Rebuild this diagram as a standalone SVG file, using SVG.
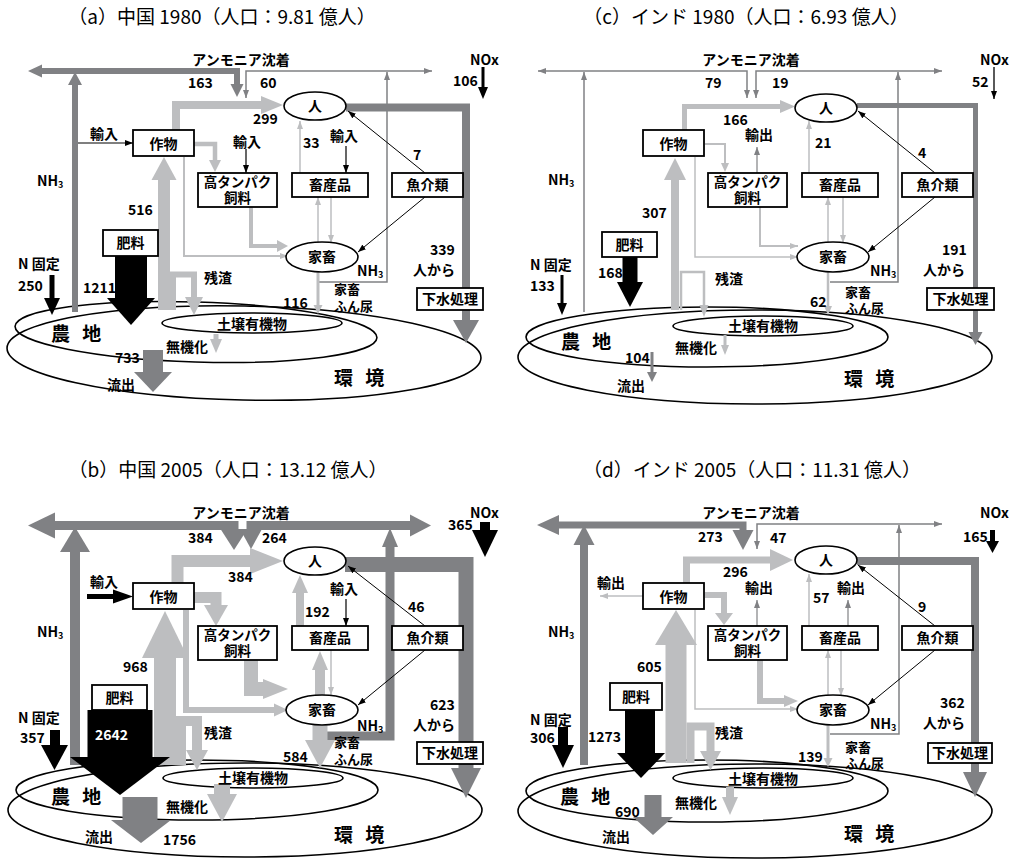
<svg xmlns="http://www.w3.org/2000/svg" width="1015" height="860" viewBox="0 0 1015 860">
<style>
.dg{fill:none;stroke:#808184;stroke-linejoin:miter}
.lg{fill:none;stroke:#bdbec0;stroke-linejoin:miter}
.bk{fill:none;stroke:#000;stroke-linejoin:miter}
.fdg{fill:#808184}.flg{fill:#bdbec0}.fbk{fill:#000}
.box{fill:#fff;stroke:#000;stroke-width:1.8}
.ell{fill:none;stroke:#000;stroke-width:1.6}
.nd{fill:#fff;stroke:#000;stroke-width:1.6}
text{font-family:"Noto Sans CJK JP","Noto Sans",sans-serif;font-weight:700;font-size:14px;fill:#000}
text.t{font-weight:400;font-size:19px}
text.big{font-size:19px;letter-spacing:4px}
text.s{font-size:13.5px}
text.x{font-size:13px}
text.m{text-anchor:middle}
text.w{fill:#fff}
</style>
<defs>
<marker id="mb" viewBox="0 0 8 6" refX="8" refY="3" markerWidth="8" markerHeight="6" markerUnits="userSpaceOnUse" orient="auto-start-reverse"><path d="M0,0L8,3L0,6z" fill="#000"/></marker>
<marker id="mg" viewBox="0 0 8 6" refX="8" refY="3" markerWidth="8" markerHeight="6" markerUnits="userSpaceOnUse" orient="auto-start-reverse"><path d="M0,0L8,3L0,6z" fill="#808184"/></marker>
<marker id="ml" viewBox="0 0 8 6" refX="8" refY="3" markerWidth="8" markerHeight="6" markerUnits="userSpaceOnUse" orient="auto-start-reverse"><path d="M0,0L8,3L0,6z" fill="#bdbec0"/></marker>
</defs>
<rect width="1015" height="860" fill="#fff"/>

<!-- ================= PANEL A ================= -->
<g id="panel-a">
<g id="a-ground">
<ellipse class="ell" cx="244" cy="353" rx="237" ry="47" transform="rotate(1.2 244 353)"/>
<ellipse class="ell" cx="196" cy="332" rx="181" ry="30" transform="rotate(1.8 196 332)"/>
<ellipse class="ell" cx="252" cy="323" rx="90" ry="10"/>
</g>
<g id="a-connectors">
<polyline class="dg" stroke-width="6" points="75,312 75,84"/>
<polygon class="fdg" points="68,85 82,85 75,72"/>
<polyline class="dg" stroke-width="6" points="41,71 237,71 237,85"/>
<polygon class="fdg" points="28,71 42,64.5 42,77.5"/>
<polygon class="fdg" points="230.5,84 243.5,84 237,97"/>
<polyline class="dg" stroke-width="1.5" points="246,98 246,71 432,71" marker-start="url(#mg)" marker-end="url(#mg)"/>
<polyline class="dg" stroke-width="1.5" points="318,282 387,282 387,72" marker-end="url(#mg)"/>
<polyline class="dg" stroke-width="8" points="346,107.5 466,107.5 466,321"/>
<polygon class="fdg" points="453,320 479,320 466,343"/>
<polyline class="dg" stroke-width="20" points="153,350 153,373"/>
<polygon class="fdg" points="134,372 172,372 153,392"/>
<polyline class="lg" stroke-width="8" points="176,130 176,105 262,105"/>
<polygon class="flg" points="261,96 283,105 261,114"/>
<polyline class="lg" stroke-width="12" points="164,310 164,179"/>
<polygon class="flg" points="151.5,180 176.5,180 164,157"/>
<polyline class="lg" stroke-width="6" points="173,310 173,274.5 194,274.5 194,298"/>
<polygon class="flg" points="185,297 203,297 194,315"/>
<polyline class="lg" stroke-width="4.5" points="194,144 215,144 215,161"/>
<polygon class="flg" points="209,160 221,160 215,172"/>
<polyline class="lg" stroke-width="2" points="184,157 184,256 288,256" marker-end="url(#ml)"/>
<polyline class="lg" stroke-width="4" points="251,207 251,246 279,246"/>
<polygon class="flg" points="277,240 288,246 277,252"/>
<line class="lg" stroke-width="1.5" x1="300" y1="173" x2="300" y2="121" marker-end="url(#ml)"/>
<line class="lg" stroke-width="1.5" x1="318" y1="243" x2="318" y2="197" marker-end="url(#ml)"/>
<line class="lg" stroke-width="1.5" x1="331" y1="197" x2="331" y2="243" marker-end="url(#ml)"/>
<polyline class="lg" stroke-width="3" points="318,272 318,306"/>
<polygon class="flg" points="313.5,305 322.5,305 318,314"/>
<polyline class="lg" stroke-width="5" points="216,334 216,340"/>
<polygon class="flg" points="210,339 222,339 216,353"/>
<line class="bk" stroke-width="1.2" x1="78" y1="143" x2="133" y2="143" marker-end="url(#mb)"/>
<line class="bk" stroke-width="1.2" x1="246" y1="149" x2="246" y2="173" marker-end="url(#mb)"/>
<line class="bk" stroke-width="1.2" x1="346" y1="146" x2="346" y2="173" marker-end="url(#mb)"/>
<line class="bk" stroke-width="1" x1="425" y1="173" x2="348" y2="111" marker-end="url(#mb)"/>
<line class="bk" stroke-width="1" x1="425" y1="197" x2="358" y2="252" marker-end="url(#mb)"/>
<polyline class="bk" stroke-width="3" points="483,67 483,88"/>
<polygon class="fbk" points="478,87 488,87 483,99"/>
<polyline class="bk" stroke-width="5" points="52,275 52,299"/>
<polygon class="fbk" points="44,298 60,298 52,315"/>
<polyline class="bk" stroke-width="32" points="131,256 131,299"/>
<polygon class="fbk" points="107,298 155,298 131,325"/>
</g>
<g id="a-crop"><rect class="box" x="133" y="130" width="61" height="26"/><text class="m" x="163.5" y="149">作物</text></g>
<g id="a-feed"><rect class="box" x="198" y="173" width="79" height="34"/><text class="m s" x="237.5" y="187">高タンパク<tspan x="237.5" dy="16">飼料</tspan></text></g>
<g id="a-product"><rect class="box" x="292" y="173" width="76" height="24"/><text class="m" x="330" y="190">畜産品</text></g>
<g id="a-fish"><rect class="box" x="392" y="173" width="71" height="24"/><text class="m" x="427.5" y="190">魚介類</text></g>
<g id="a-fert"><rect class="box" x="103" y="230" width="55" height="26"/><text class="m" x="130.5" y="248">肥料</text></g>
<g id="a-sewage"><rect class="box" x="417" y="288" width="66" height="22"/><text class="m" x="450" y="304">下水処理</text></g>
<g id="a-human"><ellipse class="nd" cx="315" cy="106" rx="31" ry="14"/><text class="m" x="315" y="111">人</text></g>
<g id="a-livestock"><ellipse class="nd" cx="322" cy="257" rx="36" ry="15"/><text class="m" x="322" y="262">家畜</text></g>
<g id="a-labels">
<text class="t m" x="222" y="24">（a）中国 1980（人口：9.81 億人）</text>
<text class="m" x="241" y="65">アンモニア沈着</text>
<text x="188" y="88">163</text><text x="260" y="88">60</text>
<text x="470" y="65">NOx</text><text x="453" y="86">106</text>
<text x="90" y="139">輸入</text>
<text x="253" y="124">299</text>
<text x="233" y="147">輸入</text>
<text x="303" y="148">33</text>
<text x="330" y="141">輸入</text>
<text x="413" y="160">7</text>
<text x="37" y="186">NH<tspan font-size="9" dy="2">3</tspan></text>
<text x="128" y="215">516</text>
<text x="18" y="269">N 固定</text><text x="18" y="291">250</text>
<text x="83" y="293">1211</text>
<text x="204" y="283">残渣</text>
<text x="357" y="276">NH<tspan font-size="9" dy="2">3</tspan></text>
<text x="430" y="255">339</text><text x="413" y="275">人から</text>
<text class="x" x="334" y="294">家畜<tspan x="334" dy="17">ふん尿</tspan></text>
<text x="283" y="308">116</text>
<text class="m" x="252" y="329">土壌有機物</text>
<text class="big" x="51" y="341">農 地</text>
<text x="166" y="352">無機化</text>
<text x="115" y="363">733</text>
<text x="107" y="390">流出</text>
<text class="big" x="334" y="385">環 境</text>
</g>
</g>

<!-- ================= PANEL B ================= -->
<g id="panel-b" transform="translate(0,453)">
<g id="b-ground">
<ellipse class="ell" cx="245" cy="357" rx="237" ry="47"/>
<ellipse class="ell" cx="197" cy="337" rx="181" ry="30"/>
<ellipse class="ell" cx="253" cy="325" rx="90" ry="10"/>
</g>
<g id="b-connectors">
<polyline class="dg" stroke-width="10" points="75,312 75,97"/>
<polygon class="fdg" points="60,99 90,99 75,74"/>
<polyline class="dg" stroke-width="9" points="53,72.5 234,72.5 234,78"/>
<polygon class="fdg" points="28,72.5 55,59.5 55,85.5"/>
<polygon class="fdg" points="220.5,76 247.5,76 234,97"/>
<polyline class="dg" stroke-width="9" points="251,77 251,72.5 412,72.5"/>
<polygon class="fdg" points="410,61.5 431,72.5 410,83.5"/>
<polygon class="fdg" points="240,76 262,76 251,96"/>
<polyline class="dg" stroke-width="9" points="327,283 390,283 390,93"/>
<polygon class="fdg" points="382,94 398,94 390,75"/>
<polyline class="dg" stroke-width="15" points="345,111.5 466,111.5 466,316"/>
<polygon class="fdg" points="451,315 481,315 466,345"/>
<polyline class="dg" stroke-width="35" points="140,344 140,368"/>
<polygon class="fdg" points="111,367 171,367 141,390"/>
<polyline class="lg" stroke-width="12" points="177.5,130 177.5,108 252,108"/>
<polygon class="flg" points="250,95 283,108 250,121"/>
<polyline class="lg" stroke-width="22" points="165,312 165,204"/>
<polygon class="flg" points="142,205 188,205 165,158"/>
<polyline class="lg" stroke-width="10" points="181,312 181,268 197,268 197,298"/>
<polygon class="flg" points="186,297 208,297 197,317"/>
<polyline class="lg" stroke-width="11" points="194,144.5 216,144.5 216,153"/>
<polygon class="flg" points="204,152 228,152 216,173"/>
<polyline class="lg" stroke-width="6" points="186,157 186,257 276,257"/>
<polygon class="flg" points="274,250.5 288,257 274,263.5"/>
<polyline class="lg" stroke-width="14" points="251,207 251,236 266,236"/>
<polygon class="flg" points="263,226 288,236 263,246"/>
<polyline class="lg" stroke-width="8" points="300,173 300,139"/>
<polygon class="flg" points="292,140 308,140 300,122"/>
<polyline class="lg" stroke-width="10" points="320,243 320,216"/>
<polygon class="flg" points="312,217 328,217 320,198"/>
<line class="lg" stroke-width="1.5" x1="331" y1="197" x2="331" y2="242" marker-end="url(#ml)"/>
<polyline class="lg" stroke-width="15" points="320,272 320,288"/>
<polygon class="flg" points="305,287 335,287 320,315"/>
<polyline class="lg" stroke-width="16" points="222,331 222,342"/>
<polygon class="flg" points="207,341 237,341 222,369"/>
<polyline class="bk" stroke-width="5" points="87,143.5 115,143.5"/>
<polygon class="fbk" points="113,136.5 133,143.5 113,150.5"/>
<line class="bk" stroke-width="1.2" x1="346" y1="146" x2="346" y2="173" marker-end="url(#mb)"/>
<line class="bk" stroke-width="1" x1="425" y1="173" x2="348" y2="113" marker-end="url(#mb)"/>
<line class="bk" stroke-width="1" x1="425" y1="197" x2="358" y2="252" marker-end="url(#mb)"/>
<polyline class="bk" stroke-width="10" points="485,69 485,78"/>
<polygon class="fbk" points="472,77 498,77 485,104"/>
<polyline class="bk" stroke-width="10" points="55,277 55,293"/>
<polygon class="fbk" points="41,292 68,292 54.5,317"/>
<polyline class="bk" stroke-width="65" points="120,257 120,305"/>
<polygon class="fbk" points="70,304 170,304 120,342"/>
</g>
<g id="b-crop"><rect class="box" x="133" y="130" width="61" height="26"/><text class="m" x="163.5" y="149">作物</text></g>
<g id="b-feed"><rect class="box" x="198" y="173" width="79" height="34"/><text class="m s" x="237.5" y="187">高タンパク<tspan x="237.5" dy="16">飼料</tspan></text></g>
<g id="b-product"><rect class="box" x="292" y="173" width="76" height="24"/><text class="m" x="330" y="190">畜産品</text></g>
<g id="b-fish"><rect class="box" x="392" y="173" width="71" height="24"/><text class="m" x="427.5" y="190">魚介類</text></g>
<g id="b-fert"><rect class="box" x="92" y="232" width="55" height="25"/><text class="m" x="119.5" y="250">肥料</text></g>
<g id="b-sewage"><rect class="box" x="417" y="289" width="66" height="22"/><text class="m" x="450" y="305">下水処理</text></g>
<g id="b-human"><ellipse class="nd" cx="315" cy="108" rx="31" ry="14"/><text class="m" x="315" y="113">人</text></g>
<g id="b-livestock"><ellipse class="nd" cx="322" cy="257" rx="36" ry="15"/><text class="m" x="322" y="262">家畜</text></g>
<g id="b-labels">
<text class="t m" x="228" y="24">（b）中国 2005（人口：13.12 億人）</text>
<text class="m" x="241" y="65">アンモニア沈着</text>
<text x="188" y="90">384</text><text x="262" y="90">264</text>
<text x="470" y="65">NOx</text><text x="448" y="77">365</text>
<text x="90" y="134">輸入</text>
<text x="228" y="129">384</text>
<text x="330" y="141">輸入</text>
<text x="305" y="164">192</text>
<text x="408" y="159">46</text>
<text x="37" y="184">NH<tspan font-size="9" dy="2">3</tspan></text>
<text x="123" y="219">968</text>
<text class="w" x="95" y="287">2642</text>
<text x="18" y="270">N 固定</text><text x="20" y="290">357</text>
<text x="204" y="285">残渣</text>
<text x="357" y="278">NH<tspan font-size="9" dy="2">3</tspan></text>
<text x="430" y="257">623</text><text x="413" y="277">人から</text>
<text class="x" x="334" y="294">家畜<tspan x="334" dy="17">ふん尿</tspan></text>
<text x="283" y="309">584</text>
<text class="m" x="253" y="330">土壌有機物</text>
<text class="big" x="51" y="351">農 地</text>
<text x="166" y="359">無機化</text>
<text x="85" y="389">流出</text>
<text x="163" y="392">1756</text>
<text class="big" x="334" y="389">環 境</text>
</g>
</g>

<!-- ================= PANEL C ================= -->
<g id="panel-c" transform="translate(510,0)">
<g id="c-ground">
<ellipse class="ell" cx="245" cy="357" rx="237" ry="47"/>
<ellipse class="ell" cx="197" cy="337" rx="181" ry="30"/>
<ellipse class="ell" cx="253" cy="326" rx="90" ry="10"/>
</g>
<g id="c-connectors">
<polyline class="dg" stroke-width="1.5" points="74,312 74,72" marker-end="url(#mg)"/>
<polyline class="dg" stroke-width="1.5" points="28,71 237,71 237,98" marker-start="url(#mg)" marker-end="url(#mg)"/>
<polyline class="dg" stroke-width="1.5" points="246,98 246,71 432,71" marker-start="url(#mg)" marker-end="url(#mg)"/>
<polyline class="dg" stroke-width="1.5" points="320,282 388,282 388,72" marker-end="url(#mg)"/>
<polyline class="dg" stroke-width="5" points="347,105.5 465.5,105.5 465.5,333"/>
<polygon class="fdg" points="458.5,332 472.5,332 465.5,345"/>
<polyline class="dg" stroke-width="3" points="142,352 142,373"/>
<polygon class="fdg" points="137,372 147,372 142,382"/>
<polyline class="lg" stroke-width="5" points="174.5,130 174.5,106.5 271,106.5"/>
<polygon class="flg" points="270,100 285,106.5 270,113"/>
<polyline class="lg" stroke-width="8" points="165,310 165,179"/>
<polygon class="flg" points="154,180 176,180 165,158"/>
<polyline class="lg" stroke-width="2.5" points="171,310 171,272 194,272 194,306"/>
<polygon class="flg" points="189.5,305 198.5,305 194,317"/>
<polyline class="lg" stroke-width="2" points="195,144 215,144 215,164"/>
<polygon class="flg" points="211,163 219,163 215,172"/>
<polyline class="lg" stroke-width="1.5" points="185,157 185,257 288,257" marker-end="url(#ml)"/>
<polyline class="lg" stroke-width="2" points="250,207 250,246 288,246" marker-end="url(#ml)"/>
<line class="lg" stroke-width="1.5" x1="299" y1="173" x2="299" y2="121" marker-end="url(#ml)"/>
<line class="lg" stroke-width="1.5" x1="318" y1="243" x2="318" y2="197" marker-end="url(#ml)"/>
<line class="lg" stroke-width="1.5" x1="333" y1="197" x2="333" y2="243" marker-end="url(#ml)"/>
<polyline class="lg" stroke-width="2.5" points="318,272 318,307"/>
<polygon class="flg" points="314,306 322,306 318,315"/>
<polyline class="lg" stroke-width="3" points="215,335 215,346"/>
<polygon class="flg" points="211,345 219,345 215,355"/>
<line class="dg" stroke-width="1.2" x1="247" y1="173" x2="247" y2="147" marker-end="url(#mg)"/>
<line class="bk" stroke-width="1" x1="425" y1="173" x2="348" y2="111" marker-end="url(#mb)"/>
<line class="bk" stroke-width="1" x1="425" y1="197" x2="358" y2="252" marker-end="url(#mb)"/>
<line class="bk" stroke-width="1.3" x1="484" y1="67" x2="484" y2="99" marker-end="url(#mb)"/>
<polyline class="bk" stroke-width="3" points="52,275 52,304"/>
<polygon class="fbk" points="47,303 57,303 52,315"/>
<polyline class="bk" stroke-width="15" points="120,257 120,283"/>
<polygon class="fbk" points="107,282 133,282 120,307"/>
</g>
<g id="c-crop"><rect class="box" x="133" y="130" width="61" height="26"/><text class="m" x="163.5" y="149">作物</text></g>
<g id="c-feed"><rect class="box" x="198" y="173" width="79" height="34"/><text class="m s" x="237.5" y="187">高タンパク<tspan x="237.5" dy="16">飼料</tspan></text></g>
<g id="c-product"><rect class="box" x="292" y="173" width="76" height="24"/><text class="m" x="330" y="190">畜産品</text></g>
<g id="c-fish"><rect class="box" x="392" y="173" width="71" height="24"/><text class="m" x="427.5" y="190">魚介類</text></g>
<g id="c-fert"><rect class="box" x="92" y="232" width="55" height="25"/><text class="m" x="119.5" y="250">肥料</text></g>
<g id="c-sewage"><rect class="box" x="417" y="288" width="67" height="22"/><text class="m" x="450.5" y="304">下水処理</text></g>
<g id="c-human"><ellipse class="nd" cx="316" cy="108" rx="31" ry="14"/><text class="m" x="316" y="113">人</text></g>
<g id="c-livestock"><ellipse class="nd" cx="323" cy="257" rx="36" ry="15"/><text class="m" x="323" y="262">家畜</text></g>
<g id="c-labels">
<text class="t m" x="236" y="24">（c）インド 1980（人口：6.93 億人）</text>
<text class="m" x="241" y="65">アンモニア沈着</text>
<text x="195" y="88">79</text><text x="262" y="88">19</text>
<text x="470" y="65">NOx</text><text x="462" y="87">52</text>
<text x="213" y="125">166</text>
<text x="235" y="140">輸出</text>
<text x="305" y="148">21</text>
<text x="408" y="158">4</text>
<text x="38" y="185">NH<tspan font-size="9" dy="2">3</tspan></text>
<text x="132" y="218">307</text>
<text x="20" y="270">N 固定</text><text x="20" y="291">133</text>
<text x="88" y="278">168</text>
<text x="205" y="284">残渣</text>
<text x="360" y="276">NH<tspan font-size="9" dy="2">3</tspan></text>
<text x="432" y="255">191</text><text x="413" y="275">人から</text>
<text class="x" x="335" y="297">家畜<tspan x="335" dy="16">ふん尿</tspan></text>
<text x="300" y="307">62</text>
<text class="m" x="253" y="331">土壌有機物</text>
<text class="big" x="51" y="349">農 地</text>
<text x="165" y="353">無機化</text>
<text x="115" y="363">104</text>
<text x="107" y="391">流出</text>
<text class="big" x="334" y="386">環 境</text>
</g>
</g>

<!-- ================= PANEL D ================= -->
<g id="panel-d" transform="translate(510,453)">
<g id="d-ground">
<ellipse class="ell" cx="245" cy="358" rx="237" ry="47"/>
<ellipse class="ell" cx="197" cy="338" rx="181" ry="31"/>
<ellipse class="ell" cx="253" cy="325" rx="90" ry="10"/>
</g>
<g id="d-connectors">
<polyline class="dg" stroke-width="8" points="74,312 74,90"/>
<polygon class="fdg" points="63.5,92 84.5,92 74,72"/>
<polyline class="dg" stroke-width="7" points="48,72 233,72 233,78"/>
<polygon class="fdg" points="27,72 49,62 49,82"/>
<polygon class="fdg" points="222.5,77 243.5,77 233,97"/>
<polyline class="dg" stroke-width="1.5" points="247,96 247,71 432,71" marker-start="url(#mg)" marker-end="url(#mg)"/>
<polyline class="dg" stroke-width="1.5" points="320,281 389,281 389,72" marker-end="url(#mg)"/>
<polyline class="dg" stroke-width="8" points="347,108 465,108 465,320"/>
<polygon class="fdg" points="453,319 477,319 465,344"/>
<polyline class="dg" stroke-width="17" points="143,342 143,365"/>
<polygon class="fdg" points="123,364 163,364 143,382"/>
<polyline class="lg" stroke-width="7" points="176.5,130 176.5,107 262,107"/>
<polygon class="flg" points="260,96 283,107 260,118"/>
<polyline class="lg" stroke-width="21" points="166,310 166,191"/>
<polygon class="flg" points="145,192 187,192 166,157"/>
<polyline class="lg" stroke-width="8" points="180.5,310 180.5,273.5 200.5,273.5 200.5,299"/>
<polygon class="flg" points="190,298 211,298 200.5,317"/>
<polyline class="lg" stroke-width="6" points="195,142 214,142 214,161"/>
<polygon class="flg" points="205,160 223,160 214,172"/>
<polyline class="lg" stroke-width="1.5" points="185,157 185,256 288,256" marker-end="url(#ml)"/>
<polyline class="lg" stroke-width="6" points="250,207 250,248 275,248"/>
<polygon class="flg" points="274,242 288,248 274,254"/>
<line class="lg" stroke-width="1.5" x1="299" y1="173" x2="299" y2="121" marker-end="url(#ml)"/>
<line class="lg" stroke-width="1.5" x1="318" y1="243" x2="318" y2="197" marker-end="url(#ml)"/>
<line class="lg" stroke-width="1.5" x1="331" y1="197" x2="331" y2="243" marker-end="url(#ml)"/>
<polyline class="lg" stroke-width="3" points="318,272 318,306"/>
<polygon class="flg" points="313.5,305 322.5,305 318,314"/>
<polyline class="lg" stroke-width="8" points="220,334 220,345"/>
<polygon class="flg" points="212,344 228,344 220,362"/>
<line class="lg" stroke-width="1.5" x1="133" y1="143" x2="90" y2="143" marker-end="url(#ml)"/>
<line class="dg" stroke-width="1.2" x1="247" y1="173" x2="247" y2="147" marker-end="url(#mg)"/>
<line class="dg" stroke-width="1.2" x1="338" y1="173" x2="338" y2="147" marker-end="url(#mg)"/>
<line class="bk" stroke-width="1" x1="425" y1="173" x2="348" y2="112" marker-end="url(#mb)"/>
<line class="bk" stroke-width="1" x1="425" y1="197" x2="358" y2="252" marker-end="url(#mb)"/>
<polyline class="bk" stroke-width="5" points="482.5,77 482.5,89"/>
<polygon class="fbk" points="476,88 489,88 482.5,100"/>
<polyline class="bk" stroke-width="10" points="53,274 53,293"/>
<polygon class="fbk" points="42,292 64,292 53,315"/>
<polyline class="bk" stroke-width="30" points="130,257 130,301"/>
<polygon class="fbk" points="107,300 155,300 131,325"/>
</g>
<g id="d-crop"><rect class="box" x="133" y="130" width="61" height="26"/><text class="m" x="163.5" y="149">作物</text></g>
<g id="d-feed"><rect class="box" x="198" y="173" width="79" height="34"/><text class="m s" x="237.5" y="187">高タンパク<tspan x="237.5" dy="16">飼料</tspan></text></g>
<g id="d-product"><rect class="box" x="292" y="173" width="76" height="24"/><text class="m" x="330" y="190">畜産品</text></g>
<g id="d-fish"><rect class="box" x="392" y="173" width="71" height="24"/><text class="m" x="427.5" y="190">魚介類</text></g>
<g id="d-fert"><rect class="box" x="100" y="230" width="52" height="27"/><text class="m" x="126" y="249">肥料</text></g>
<g id="d-sewage"><rect class="box" x="418" y="290" width="64" height="20"/><text class="m" x="450" y="305">下水処理</text></g>
<g id="d-human"><ellipse class="nd" cx="316" cy="107" rx="31" ry="14"/><text class="m" x="316" y="112">人</text></g>
<g id="d-livestock"><ellipse class="nd" cx="323" cy="257" rx="36" ry="15"/><text class="m" x="323" y="262">家畜</text></g>
<g id="d-labels">
<text class="t m" x="242" y="24">（d）インド 2005（人口：11.31 億人）</text>
<text class="m" x="241" y="65">アンモニア沈着</text>
<text x="188" y="89">273</text><text x="260" y="90">47</text>
<text x="470" y="65">NOx</text><text x="453" y="89">165</text>
<text x="87" y="135">輸出</text>
<text x="213" y="124">296</text>
<text x="235" y="140">輸出</text>
<text x="303" y="150">57</text>
<text x="327" y="140">輸出</text>
<text x="408" y="159">9</text>
<text x="38" y="184">NH<tspan font-size="9" dy="2">3</tspan></text>
<text x="127" y="219">605</text>
<text x="20" y="272">N 固定</text><text x="20" y="290">306</text>
<text x="78" y="289">1273</text>
<text x="205" y="285">残渣</text>
<text x="360" y="276">NH<tspan font-size="9" dy="2">3</tspan></text>
<text x="430" y="255">362</text><text x="413" y="275">人から</text>
<text class="x" x="335" y="299">家畜<tspan x="335" dy="16">ふん尿</tspan></text>
<text x="288" y="309">139</text>
<text class="m" x="253" y="331">土壌有機物</text>
<text class="big" x="50" y="351">農 地</text>
<text x="165" y="355">無機化</text>
<text x="105" y="364">690</text>
<text x="92" y="389">流出</text>
<text class="big" x="334" y="388">環 境</text>
</g>
</g>
</svg>
